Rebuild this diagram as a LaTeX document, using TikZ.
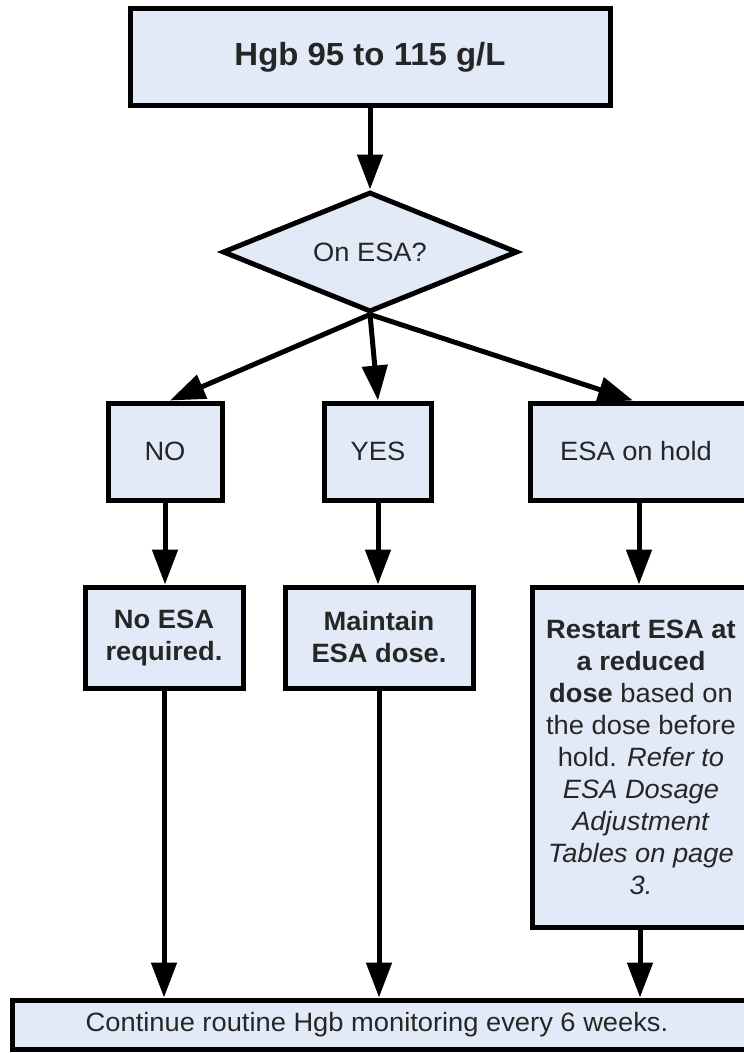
\documentclass[tikz,border=0pt]{standalone}
\usepackage{fontspec}
\setmainfont{Liberation Sans}[FakeStretch=1.03]
\usetikzlibrary{arrows.meta,shapes.geometric}
\definecolor{boxfill}{RGB}{226,233,247}
\definecolor{txt}{RGB}{38,38,38}
\tikzset{
  box/.style={draw=black, line width=5pt, fill=boxfill, text=txt, inner sep=0pt,
    align=center, font=\fontsize{26.5}{32}\selectfont},
  arr/.style={line width=5pt, -{Triangle[length=35pt,width=25pt]}},
}
\begin{document}
\begin{tikzpicture}[x=1pt,y=-1pt]
\path[use as bounding box] (0,0) rectangle (744,1053);
\begin{scope}
\clip (0,0) rectangle (744,1053);
\node[box, minimum width=480pt, minimum height=97pt, font=\fontsize{32}{36}\selectfont\bfseries] (top) at (370,57) {Hgb 95 to 115 g/L};
\node[box, diamond, aspect=2.5, minimum width=295pt, minimum height=120pt] (dia) at (370,252) {On ESA?};
\node[box, minimum width=114pt, minimum height=97pt] (no) at (165,451.5) {NO};
\node[box, minimum width=107pt, minimum height=97pt] (yes) at (378,451.5) {YES};
\node[box, minimum width=220pt, minimum height=97pt] (hold) at (640,451.5) {\hspace*{-8pt}ESA on hold};
\node[box, minimum width=158pt, minimum height=101pt, font=\fontsize{26.5}{32}\selectfont\bfseries] (noesa) at (164,637.5) {No ESA\\required.};
\node[box, minimum width=188pt, minimum height=101pt, font=\fontsize{26.5}{32}\selectfont\bfseries] (maint) at (379,637.5) {Maintain\\ESA dose.};
\node[box, minimum width=218pt, minimum height=340pt] (restart) at (641,757) {\textbf{Restart ESA at}\\\textbf{a reduced}\\\textbf{dose} based on\\the dose before\\hold. \textit{Refer to}\\\textit{ESA Dosage}\\\textit{Adjustment}\\\textit{Tables on page}\\\textit{3.}};
\node[box, minimum width=734pt, minimum height=49pt] (bot) at (379,1024.5) {\hspace*{-4pt}Continue routine Hgb monitoring every 6 weeks.};

\draw[arr] (top.south) -- (dia.north);
\draw[arr] (dia.south) -- ([xshift=5pt]no.north);
\draw[arr] (dia.south) -- (yes.north);
\draw[arr] (dia.south) -- ([xshift=-7pt]hold.north);
\draw[arr] (no.south) -- (no.south |- noesa.north);
\draw[arr] (yes.south) -- (yes.south |- maint.north);
\draw[arr] ([xshift=-1pt]hold.south) -- ([xshift=-1pt]hold.south |- restart.north);
\draw[arr] (noesa.south) -- (noesa.south |- bot.north);
\draw[arr] (maint.south) -- (maint.south |- bot.north);
\draw[arr] ([xshift=-1pt]restart.south) -- ([xshift=-1pt]restart.south |- bot.north);
\end{scope}
\end{tikzpicture}
\end{document}
